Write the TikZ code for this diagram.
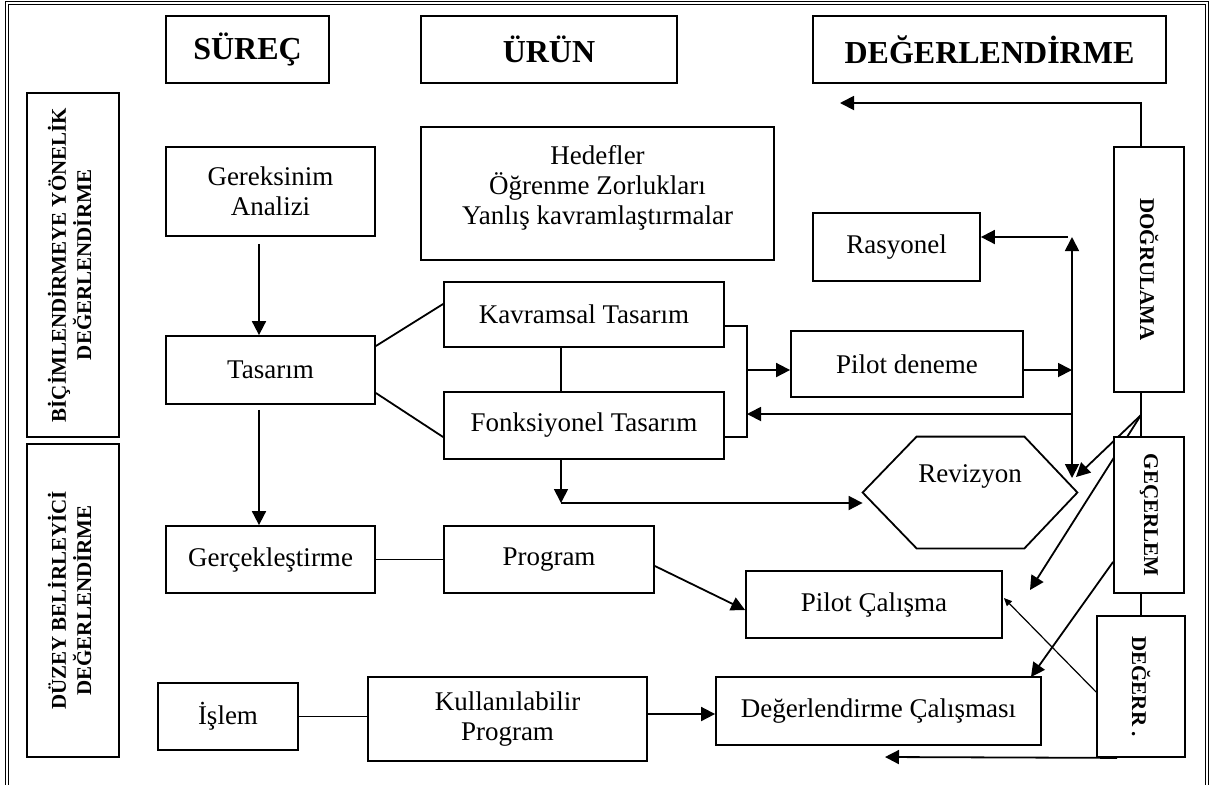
\documentclass[tikz,border=0pt]{standalone}
\usepackage{fontspec}
\setmainfont{Liberation Serif}
\usetikzlibrary{arrows.meta,calc,backgrounds}
\tikzset{box/.style={draw,line width=0.9pt,fill=white,inner sep=1pt,align=center,font=\fontsize{13.5}{15}\selectfont},
  head/.style={box,font=\fontsize{16}{19}\selectfont\bfseries},
  side/.style={box,font=\fontsize{10.5}{11.5}\selectfont\bfseries},
  link/.style={line width=0.9pt},
  arr/.style={-{Triangle[length=7pt,width=7pt]},line width=0.9pt},
  arrboth/.style={{Triangle[length=7pt,width=7pt]}-{Triangle[length=7pt,width=7pt]},line width=0.9pt},
  thinarr/.style={-{Triangle[length=4pt,width=3.5pt]},line width=0.6pt}}

\begin{document}
\begin{tikzpicture}[x=0.5pt,y=-0.5pt]
\useasboundingbox (0,0) rectangle (1217,784);
\draw[double,double distance=0.7pt,line width=0.5pt] (7,3) rectangle (1207,788);
\node[head,minimum width=81.5pt,minimum height=33.5pt] (surec) at (247.5,49.5) {SÜREÇ};
\node[head,minimum width=128pt,minimum height=33.5pt] (urun) at (549,49.5) {ÜRÜN};
\node[head,minimum width=176.5pt,minimum height=33.5pt] (degh) at (989.5,49.5) {DEĞERLENDİRME};
\node[side,minimum width=46pt,minimum height=172pt] (bic) at (73,265) {\rotatebox{90}{\begin{tabular}{@{}c@{}}BİÇİMLENDİRMEYE YÖNELİK\\DEĞERLENDİRME\end{tabular}}};
\node[side,minimum width=46pt,minimum height=156.5pt] (duz) at (73,600.5) {\rotatebox{90}{\begin{tabular}{@{}c@{}}DÜZEY BELİRLEYİCİ\\DEĞERLENDİRME\end{tabular}}};
\node[side,minimum width=35pt,minimum height=122.5pt] (dog) at (1149,269.5) {\rotatebox{-90}{DOĞRULAMA}};
\node[side,minimum width=35pt,minimum height=78pt] (gec) at (1149,515) {\rotatebox{-90}{GEÇERLEM}};
\node[side,minimum width=44pt,minimum height=70.5pt] (degr) at (1141,686.5) {\rotatebox{-90}{DEĞERR .}};
\node[box,minimum width=104.5pt,minimum height=44.5pt] (gerek) at (270.5,191.5) {Gereksinim\\Analizi};
\node[box,minimum width=176.5pt,minimum height=66.5pt] (hedef) at (597.5,193.5) {Hedefler\\Öğrenme Zorlukları\\Yanlış kavramlaştırmalar\\[-6pt]\mbox{}};
\node[box,minimum width=83.5pt,minimum height=34pt] (ras) at (896.5,247) {Rasyonel};
\node[box,minimum width=104.5pt,minimum height=34pt] (tas) at (270.5,370) {Tasarım};
\node[box,minimum width=140pt,minimum height=32.5pt] (kav) at (584,314.5) {Kavramsal Tasarım};
\node[box,minimum width=140pt,minimum height=33.5pt] (fon) at (584,425.5) {Fonksiyonel Tasarım};
\node[box,minimum width=116pt,minimum height=33pt] (pil) at (907,364) {Pilot deneme};
\node[minimum width=107pt,minimum height=55.5pt,inner sep=0pt] (rev) at (970,492.5) {};
\draw[link] (rev.west) -- ($(rev.north west)+(54,0)$) -- ($(rev.north east)+(-53,0)$) -- (rev.east)
  -- ($(rev.south east)+(-53,0)$) -- ($(rev.south west)+(54,0)$) -- cycle;
\node[font=\fontsize{13.5}{15}\selectfont] (revtxt) at ($(rev.center)+(0,-16)$) {Revizyon};
\node[box,minimum width=104.5pt,minimum height=33.5pt] (gerc) at (270.5,559.5) {Gerçekleştirme};
\node[box,minimum width=105pt,minimum height=33.5pt] (prog) at (549,559.5) {Program};
\node[box,minimum width=128pt,minimum height=33.5pt] (pcal) at (874,604.5) {Pilot Çalışma};
\node[box,minimum width=70pt,minimum height=33.5pt] (islem) at (228,716.5) {İşlem};
\node[box,minimum width=139.5pt,minimum height=42pt] (kul) at (507.5,719) {Kullanılabilir\\Program};
\node[box,minimum width=162.5pt,minimum height=34pt] (dcal) at (878.5,711) {Değerlendirme Çalışması};

\coordinate (br) at (747,370);
\coordinate (vt) at (1072,237);
\coordinate (vb) at (1072,478);
\coordinate (vp) at (1072,370);
\coordinate (vf) at (1072,414);
\coordinate (fd) at (561,503);
\coordinate (tp) at (840,103);
\coordinate (fp) at (1141,415);
\coordinate (rt) at (1076,477);
\coordinate (pt) at (1030,590);
\coordinate (dt) at (1031,677);
\coordinate (bt) at (885,757);

\draw[arr] ($(gerek.south)+(-11.5,7)$) -- ($(tas.north)+(-11.5,0)$);
\draw[arr] ($(tas.south)+(-11.5,5)$) -- ($(gerc.north)+(-11.5,0)$);
\draw[link] ($(tas.east)+(0,-24)$) -- ($(kav.west)+(0,-10.5)$);
\draw[link] ($(tas.east)+(0,23)$) -- ($(fon.west)+(0,11.5)$);
\draw[link] ($(kav.south)+(-23,0)$) -- ($(fon.north)+(-23,0)$);
\draw[link] ($(kav.east)+(0,11.5)$) -| (br) |- ($(fon.east)+(0,11.5)$);
\draw[arr] (br) -- (br -| pil.west);
\draw[arr] ($(pil.east)+(0,6)$) -- (vp);
\draw[arrboth] (vt) -- (vb);
\draw[arr] ($(vt)+(-4,0)$) -- (vt -| ras.east);
\draw[arr] (vf) -- (vf -| br);
\draw[arr] ($(fon.south)+(-23,0)$) -- (fd);
\draw[arr] (fd) -- (fd -| rev.west);
\draw[arr] ($(dog.north)+(-8,0)$) |- (tp);
\draw[link] ($(dog.south)+(-8,0)$) -- ($(gec.north)+(-8,0)$);
\draw[link] ($(gec.south)+(-8,0)$) -- (degr.north);
\begin{scope}[on background layer]
\draw[arr] (fp) -- (rt);
\draw[arr] (fp) -- (pt);
\end{scope}
\draw[arr] ($(gec.south west)+(0,-32)$) -- (dt);
\draw[thinarr] ($(degr.west)+(0,5.5)$) -- ($(pcal.east)+(1,-6.5)$);
\draw[arr] ($(degr.south)+(-24,0)$) -- (bt);
\draw[link] (gerc.east) -- (prog.west);
\draw[arr] ($(prog.east)+(0,6.5)$) -- ($(pcal.west)+(0,5.5)$);
\draw[link] (islem.east) -- (islem.east -| kul.west);
\draw[arr] ($(kul.east)+(0,-5)$) -- ($(dcal.west)+(0,3)$);
\end{tikzpicture}
\end{document}
